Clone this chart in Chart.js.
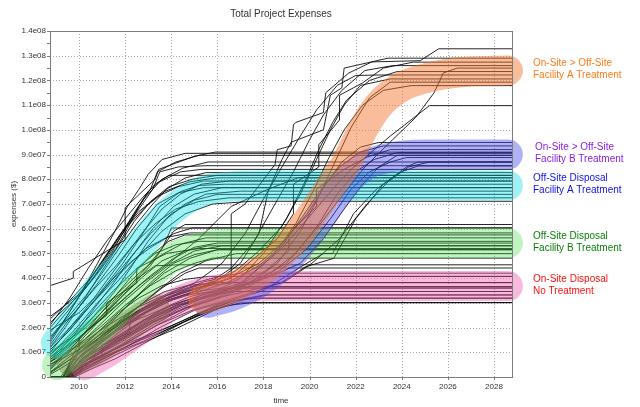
<!DOCTYPE html>
<html>
<head>
<meta charset="utf-8">
<title>Total Project Expenses</title>
<script src="https://cdn.jsdelivr.net/npm/chart.js@4.4.1/dist/chart.umd.min.js"></script>
<style>
  html, body { margin: 0; padding: 0; background: #fff; }
  #chart { display: block; }
</style>
</head>
<body>
<canvas id="chart" width="640" height="407"></canvas>
<script>
const chartTitle = "Total Project Expenses";
const xTitle = "time";
const yTitle = "expenses ($)";

const xTickValues = [2010, 2012, 2014, 2016, 2018, 2020, 2022, 2024, 2026, 2028];
const xTickLabels = ["2010", "2012", "2014", "2016", "2018", "2020", "2022", "2024", "2026", "2028"];
const yTickValues = [0, 1e7, 2e7, 3e7, 4e7, 5e7, 6e7, 7e7, 8e7, 9e7, 1e8, 1.1e8, 1.2e8, 1.3e8, 1.4e8];
const yTickLabels = ["0", "1.0e07", "2.0e07", "3.0e07", "4.0e07", "5.0e07", "6.0e07", "7.0e07",
  "8.0e07", "9.0e07", "1.0e08", "1.1e08", "1.2e08", "1.3e08", "1.4e08"];
const yMinorTicks = [5e6, 1.5e7, 2.5e7, 3.5e7, 4.5e7, 5.5e7, 6.5e7, 7.5e7, 8.5e7, 9.5e7, 1.05e8, 1.15e8, 1.25e8, 1.35e8];

// simulation runs, [year, expenses in 1e7 $]
const runsOffsiteA = [
  [[2008.75,2.45],[2009.4,2.9],[2010.2,3.5],[2010.9,4.3],[2011.6,5.2],[2012.1,6.0],[2012.6,6.9],[2013.1,7.6],[2013.4,8.3],[2014.2,8.7],[2015.2,8.97],[2028.8,8.97]],
  [[2008.75,3.7],[2009.75,4.0],[2009.75,4.27],[2012.0,5.55],[2012.0,6.85],[2013.3,8.0],[2013.45,8.4],[2015.0,8.93],[2015.9,9.1],[2028.8,9.1]],
  [[2008.75,2.35],[2009.6,3.1],[2010.5,4.0],[2011.2,4.9],[2011.9,5.9],[2012.5,6.8],[2013,7.5],[2013.6,8.0],[2014.5,8.45],[2015.6,8.7],[2028.8,8.7]],
  [[2008.75,1.63],[2009.5,2.4],[2010.3,3.3],[2011,4.2],[2011.8,5.3],[2012.5,6.2],[2013.2,7.0],[2013.8,7.6],[2014.6,8.05],[2015.5,8.27],[2028.8,8.27]],
  [[2008.75,1.0],[2009.6,2.0],[2010.5,3.0],[2011.2,3.9],[2012,4.9],[2012.8,5.9],[2013.6,6.8],[2014.4,7.4],[2015.3,7.8],[2016.5,7.93],[2028.8,7.93]],
  [[2008.75,0.6],[2009.5,1.3],[2010.5,2.3],[2011.5,3.4],[2012.3,4.5],[2013,5.5],[2013.8,6.4],[2014.6,7.0],[2015.5,7.4],[2017,7.52],[2028.8,7.52]],
  [[2008.75,1.8],[2009.8,3.0],[2010.6,4.0],[2011.4,5.1],[2012.1,6.1],[2012.9,6.9],[2013.7,7.5],[2014.8,7.9],[2016,8.06],[2028.8,8.06]],
  [[2008.75,1.3],[2009.7,2.5],[2010.7,3.6],[2011.6,4.5],[2012.4,5.4],[2013.3,6.2],[2014.2,6.8],[2015.2,7.1],[2016.5,7.25],[2028.8,7.25]],
  [[2008.75,2.0],[2009.5,2.8],[2010.2,3.6],[2011,4.7],[2011.8,5.8],[2012.6,6.8],[2013.2,7.6],[2013.5,8.3],[2014.3,8.5],[2015.5,8.55],[2028.8,8.55]],
  [[2008.75,0.9],[2009.8,1.9],[2010.8,3.0],[2011.8,4.0],[2012.7,5.0],[2013.6,5.9],[2014.6,6.6],[2015.8,7.0],[2017.5,7.11],[2028.8,7.11]],
  [[2008.75,1.6],[2009.9,2.7],[2010.9,3.9],[2011.7,4.9],[2012.5,6.0],[2013.4,7.0],[2014.3,7.45],[2015.4,7.66],[2028.8,7.66]],
  [[2008.75,1.1],[2009.5,1.8],[2010.4,2.8],[2011.3,3.8],[2012.2,4.8],[2013.1,5.8],[2014,6.6],[2015,7.15],[2016,7.39],[2028.8,7.39]],
  [[2008.75,2.1],[2009.6,3.2],[2010.4,4.4],[2011.2,5.5],[2012,6.4],[2012.7,7.2],[2013.3,7.8],[2013.9,8.16],[2028.8,8.16]],
  [[2008.75,1.9],[2010,2.6],[2010.9,3.4],[2011.9,4.6],[2012.9,6.0],[2013.5,6.9],[2014.4,7.5],[2015.2,7.75],[2016.3,7.8],[2028.8,7.8]],
  [[2008.75,0.8],[2010,1.6],[2011.3,2.6],[2012.6,3.7],[2013.9,4.6],[2015.2,5.6],[2016.6,6.9],[2018.2,7.6],[2019.5,8.06],[2028.8,8.06]],
  [[2008.75,1.4],[2009.3,2.2],[2010.1,3.4],[2010.8,4.6],[2011.5,5.8],[2012.1,6.9],[2012.6,7.6],[2013,8.2],[2013.6,8.8],[2014.6,9.05],[2028.8,9.05]],
  [[2008.75,1.2],[2009.4,2.0],[2010.2,3.1],[2011,4.3],[2011.7,5.3],[2012.4,6.3],[2013.1,7.1],[2013.9,7.7],[2014.9,8.0],[2016,8.16],[2028.8,8.16]],
  [[2008.75,0.7],[2009.7,1.6],[2010.6,2.7],[2011.5,3.8],[2012.3,4.9],[2013.2,6.0],[2014.1,6.9],[2015,7.4],[2016.2,7.66],[2028.8,7.66]],
  [[2008.75,1.5],[2009.5,2.5],[2010.3,3.7],[2011.1,4.8],[2011.9,5.9],[2012.6,6.7],[2013.4,7.3],[2014.3,7.7],[2015.4,7.93],[2028.8,7.93]],
  [[2008.75,2.2],[2009.3,2.7],[2010,3.3],[2010.7,4.1],[2011.4,5.0],[2012.2,6.3],[2012.8,7.2],[2013.5,7.9],[2014.4,8.3],[2015.3,8.4],[2028.8,8.4]]
];

const runsOffsiteB = [
  [[2008.75,0.3],[2009.6,1.0],[2010.5,1.9],[2011.4,2.8],[2012.3,3.7],[2013.1,4.5],[2013.6,5.2],[2013.9,5.8],[2014.0,6.03],[2028.8,6.03]],
  [[2008.75,0.8],[2009.8,1.7],[2010.8,2.6],[2011.7,3.4],[2012.6,4.2],[2013.5,4.9],[2014.5,5.4],[2015.5,5.63],[2028.8,5.63]],
  [[2008.75,0.2],[2009.7,0.9],[2010.8,1.8],[2011.8,2.6],[2012.8,3.5],[2013.7,4.2],[2014.8,4.8],[2016,5.15],[2028.8,5.15]],
  [[2008.75,1.2],[2009.5,1.9],[2010.4,2.8],[2011.2,3.6],[2012,4.4],[2012.9,5.2],[2013.8,5.65],[2014.8,5.83],[2028.8,5.83]],
  [[2008.75,0.5],[2010,1.3],[2011,2.2],[2012,3.1],[2013,3.9],[2014,4.6],[2015,5.1],[2016.2,5.31],[2028.8,5.31]],
  [[2008.75,0.1],[2010.2,0.9],[2011.3,1.8],[2012.4,2.7],[2013.4,3.5],[2014.4,4.2],[2015.5,4.7],[2016.8,4.99],[2028.8,4.99]],
  [[2008.75,0.9],[2009.6,1.6],[2010.6,2.6],[2011.5,3.5],[2012.4,4.3],[2013.3,5.0],[2014.2,5.35],[2015.2,5.49],[2028.8,5.49]],
  [[2008.75,0.4],[2009.9,1.4],[2011,2.5],[2012,3.5],[2012.9,4.4],[2013.6,5.2],[2014.1,5.9],[2014.6,6.17],[2028.8,6.17]],
  [[2008.75,0.6],[2009.8,1.2],[2010.9,2.0],[2012,2.9],[2013.1,3.7],[2014.2,4.3],[2015,4.6],[2015.8,4.81],[2028.8,4.81]],
  [[2008.75,0.2],[2010.1,1.0],[2011.3,1.9],[2012.5,2.8],[2013.6,3.6],[2014.6,4.2],[2015.2,4.41],[2028.8,4.41]],
  [[2008.75,0.7],[2009.9,1.5],[2011,2.4],[2012.1,3.3],[2013.1,4.1],[2014.1,4.8],[2015,5.25],[2016,5.42],[2028.8,5.42]],
  [[2008.75,1.0],[2010.3,2.0],[2011.4,3.0],[2012.4,3.9],[2013.3,4.5],[2014.3,4.54],[2028.8,4.54]],
  [[2008.75,0.35],[2009.7,1.2],[2010.6,2.2],[2011.5,3.2],[2012.3,4.1],[2013.1,4.9],[2013.9,5.5],[2014.6,5.75],[2028.8,5.75]],
  [[2008.75,0.5],[2010,1.1],[2010,1.6],[2011.2,2.5],[2011.2,3.0],[2012.5,3.8],[2012.5,4.4],[2013.8,5.0],[2015.2,5.2],[2028.8,5.2]],
  [[2008.75,0.6],[2009.8,1.4],[2010.8,2.3],[2011.8,3.2],[2012.7,4.0],[2013.6,4.7],[2014.6,5.1],[2015.6,5.31],[2028.8,5.31]],
  [[2008.75,0.15],[2009.9,0.9],[2011.1,1.9],[2012.2,3.0],[2013.2,3.9],[2014.1,4.6],[2015,4.95],[2016,5.15],[2028.8,5.15]],
  [[2008.75,1.1],[2009.6,1.9],[2010.5,2.9],[2011.4,3.9],[2012.3,4.7],[2013.2,5.3],[2014.1,5.8],[2014.9,6.03],[2028.8,6.03]]
];

const runsOnsite = [
  [[2008.75,0],[2009.4,0],[2010,0.35],[2011,0.8],[2012,1.2],[2012.7,1.5],[2013.5,1.8],[2014.5,2.2],[2015.5,2.6],[2016.5,2.9],[2017.5,3.01],[2028.8,3.01]],
  [[2008.75,0],[2009.5,0],[2010.2,0.45],[2011.2,0.95],[2012.2,1.4],[2012.9,1.65],[2013.8,2.0],[2014.8,2.4],[2015.8,2.8],[2016.8,3.1],[2017.8,3.19],[2028.8,3.19]],
  [[2008.75,0],[2009.3,0],[2010,0.6],[2010.8,1.3],[2011.7,2.0],[2012.6,2.6],[2013.5,3.0],[2014.5,3.3],[2015.5,3.42],[2016.5,3.46],[2028.8,3.46]],
  [[2008.75,0],[2009.6,0],[2010.4,0.6],[2011.4,1.3],[2012.4,1.9],[2013.4,2.5],[2014.4,3.0],[2015.6,3.4],[2016.8,3.66],[2028.8,3.66]],
  [[2008.75,0],[2009.4,0],[2010.1,0.9],[2011,1.7],[2011.9,2.4],[2012.8,3.0],[2013.7,3.45],[2014.7,3.7],[2015.8,3.82],[2028.8,3.82]],
  [[2008.75,0],[2009.7,0],[2010.5,0.4],[2011.5,0.85],[2012.5,1.3],[2013.3,1.6],[2014.2,1.95],[2015.2,2.4],[2016.2,2.85],[2017.2,3.15],[2018.2,3.32],[2028.8,3.32]],
  [[2008.75,0],[2009.3,0],[2009.9,1.0],[2010.8,1.8],[2011.7,2.6],[2012.6,3.2],[2013.6,3.7],[2014.6,3.95],[2015.6,4.07],[2028.8,4.07]],
  [[2008.75,0],[2009.5,0],[2010.3,0.8],[2011.2,1.6],[2012.1,2.3],[2013,2.9],[2014,3.4],[2015,3.8],[2016,4.05],[2017,4.2],[2028.8,4.2]],
  [[2008.75,0],[2009.8,0],[2010.6,0.35],[2011.6,0.75],[2012.6,1.25],[2013.6,1.75],[2014.6,2.25],[2015.6,2.7],[2016.6,3.05],[2018,3.32],[2028.8,3.32]],
  [[2008.75,0],[2009.4,0],[2010.2,0.65],[2011.3,1.25],[2012.3,1.75],[2013.3,2.25],[2014.3,2.75],[2015.3,3.15],[2016.4,3.45],[2017.5,3.66],[2028.8,3.66]],
  [[2008.75,0],[2009.6,0],[2010.5,0.5],[2011.3,0.9],[2012,1.15],[2012.8,1.45],[2013.8,1.9],[2014.8,2.35],[2015.9,2.75],[2017,3.0],[2028.8,3.01]],
  [[2008.75,0],[2009.5,0],[2010.1,0.7],[2011,1.4],[2012,2.1],[2013,2.7],[2014,3.15],[2015,3.45],[2016.2,3.6],[2028.8,3.6]],
  [[2008.75,0],[2009.3,0],[2010,0.8],[2010.9,1.5],[2011.8,2.2],[2012.8,2.8],[2013.8,3.3],[2014.8,3.65],[2015.8,3.82],[2028.8,3.82]],
  [[2008.75,0],[2009.5,0],[2010.2,0.5],[2011,0.9],[2011,1.3],[2012.2,1.8],[2012.2,2.2],[2013.5,2.7],[2014.6,3.1],[2015.8,3.3],[2016.8,3.46],[2028.8,3.46]],
  [[2008.75,0],[2009.4,0],[2010.1,0.55],[2011,1.1],[2011.9,1.7],[2012.8,2.3],[2013.8,2.85],[2014.8,3.25],[2015.9,3.5],[2017,3.6],[2028.8,3.6]],
  [[2008.75,0],[2009.6,0],[2010.3,0.4],[2011.3,0.85],[2012.3,1.35],[2013.2,1.75],[2014.1,2.1],[2015.1,2.55],[2016.1,2.95],[2017.3,3.19],[2028.8,3.19]],
  [[2008.75,0],[2009.3,0],[2009.9,0.7],[2010.8,1.35],[2011.8,2.05],[2012.7,2.65],[2013.7,3.15],[2014.8,3.55],[2016,3.82],[2028.8,3.82]],
  [[2008.75,0],[2009.5,0],[2010.3,0.75],[2011.3,1.5],[2012.3,2.2],[2013.3,2.85],[2014.3,3.4],[2015.4,3.85],[2016.5,4.07],[2028.8,4.07]]
];

const runsOnOffA = [
  [[2008.75,0],[2009.2,0],[2009.9,0.9],[2011,1.6],[2012.2,2.4],[2013.3,3.0],[2014.5,3.4],[2015.6,3.7],[2016.6,3.8],[2016.6,6.6],[2017.2,7.0],[2018.5,8.6],[2018.6,9.2],[2019.2,9.35],[2019.3,10.2],[2019.4,10.3],[2020.6,10.7],[2020.7,11.5],[2021.7,12.3],[2022.7,12.75],[2024.8,12.8],[2025.6,13.28],[2028.8,13.28]],
  [[2008.75,0],[2009.3,0],[2010,1.0],[2011.2,1.8],[2012.4,2.6],[2013.5,3.2],[2014.8,3.6],[2016,3.9],[2017,4.6],[2017.8,5.8],[2018.2,7.5],[2018.8,8.8],[2019.2,9.5],[2020.6,10.0],[2020.9,11.4],[2021.4,11.7],[2021.5,12.5],[2023.4,12.9],[2028.8,12.9]],
  [[2008.75,0],[2009.5,0],[2010.2,0.8],[2011.4,1.5],[2012.8,2.3],[2014,2.9],[2015.3,3.3],[2017,3.8],[2018.8,5.2],[2020,6.5],[2021,7.6],[2021.8,8.4],[2023.5,9.75],[2025.2,10.98],[2028.8,10.98]],
  [[2008.75,0],[2009.4,0],[2010.1,0.7],[2011.5,1.4],[2013,2.2],[2014.5,2.9],[2016,3.4],[2017.5,3.8],[2019,4.6],[2020.3,6.0],[2021.3,7.2],[2022.4,8.5],[2023.6,9.6],[2024.6,10.5],[2025.4,11.5],[2025.8,12.3],[2026.4,12.5],[2028.8,12.5]],
  [[2008.75,0],[2009.3,0],[2010,1.1],[2011.2,1.9],[2012.6,2.7],[2014,3.3],[2015.5,3.7],[2016.8,4.3],[2017.8,5.1],[2018.8,6.1],[2019.6,7.4],[2020.3,8.8],[2020.9,10.0],[2021.5,11.0],[2022.2,11.8],[2023.5,12.06],[2028.8,12.06]],
  [[2008.75,0],[2009.6,0],[2010.3,0.7],[2011.6,1.4],[2013,2.2],[2014.4,2.9],[2015.8,3.4],[2017,4.0],[2018,5.0],[2019,6.4],[2019.8,7.9],[2020.4,9.2],[2021,10.3],[2021.6,11.2],[2022.6,12.0],[2023.8,12.36],[2028.8,12.36]],
  [[2008.75,0],[2009.4,0],[2010.1,0.9],[2011.3,1.7],[2012.6,2.5],[2013.8,3.1],[2015.1,3.5],[2016.6,4.4],[2017.6,5.5],[2018.5,7.0],[2019.3,8.3],[2020,9.6],[2020.6,10.6],[2021.4,11.6],[2022.4,12.4],[2023.6,12.6],[2028.8,12.6]],
  [[2008.75,0],[2009.7,0],[2010.4,0.6],[2011.8,1.3],[2013.2,2.1],[2014.6,2.8],[2016,3.3],[2017.2,3.9],[2018.4,4.9],[2019.4,6.2],[2020.2,7.6],[2020.8,8.8],[2021.5,10.0],[2022.3,11.0],[2023.2,11.6],[2024.4,11.79],[2028.8,11.79]],
  [[2008.75,0],[2009.3,0],[2009.9,1.2],[2011.1,2.0],[2012.5,2.8],[2013.9,3.4],[2015,3.8],[2016.2,4.6],[2017.2,5.8],[2018,7.2],[2018.8,8.5],[2019.5,9.6],[2020.3,10.8],[2021.2,11.8],[2022,12.2],[2023,12.22],[2028.8,12.22]],
  [[2008.75,0],[2009.8,0],[2010.5,0.6],[2011.9,1.3],[2013.4,2.1],[2014.8,2.8],[2016.2,3.3],[2017.4,3.8],[2018.6,4.6],[2019.6,5.9],[2020.4,7.3],[2021.1,8.7],[2021.8,10.1],[2022.6,11.3],[2023.5,11.93],[2028.8,11.93]],
  [[2008.75,0],[2009.5,0],[2010.2,0.9],[2011.4,1.7],[2012.7,2.5],[2014,3.1],[2015.4,3.6],[2016.6,4.0],[2017.6,4.8],[2018.6,5.6],[2019.3,6.6],[2019.3,7.8],[2020.4,8.5],[2020.4,9.4],[2021.3,10.4],[2021.3,11.4],[2022.3,11.9],[2023.2,12.5],[2024.5,12.74],[2028.8,12.74]]
];

const runsOnOffB = [
  [[2008.75,0],[2009.5,0],[2010.2,0.8],[2011.4,1.5],[2012.8,2.3],[2014.2,2.9],[2015.6,3.3],[2017,3.7],[2018.4,4.1],[2019.6,4.6],[2020.6,5.6],[2021.5,6.8],[2022.3,7.8],[2023,8.5],[2023.8,8.97],[2028.8,8.97]],
  [[2008.75,0],[2009.6,0],[2010.4,0.7],[2011.7,1.4],[2013.1,2.2],[2014.6,2.8],[2016,3.2],[2017.4,3.5],[2018.75,3.8],[2019.8,4.45],[2021.05,4.8],[2022,6.4],[2023.2,7.8],[2024.2,8.5],[2024.7,8.7],[2028.8,8.7]],
  [[2008.75,0],[2009.4,0],[2010.1,0.9],[2011.3,1.7],[2012.6,2.5],[2014,3.1],[2015.4,3.5],[2016.6,3.9],[2017.8,4.5],[2018.8,5.3],[2019.7,6.5],[2020.5,7.6],[2021.3,8.5],[2022.2,9.1],[2023.2,9.35],[2028.8,9.35]],
  [[2008.75,0],[2009.5,0],[2010.3,0.8],[2011.6,1.5],[2013,2.3],[2014.4,2.9],[2015.8,3.3],[2017,3.7],[2018.3,4.2],[2019.4,5.0],[2020.4,6.2],[2021.2,7.4],[2022,8.3],[2022.8,8.8],[2023.8,9.08],[2028.8,9.08]],
  [[2008.75,0],[2009.7,0],[2010.5,0.6],[2011.9,1.3],[2013.4,2.1],[2014.9,2.7],[2016.4,3.1],[2017.8,3.5],[2019,3.9],[2020.1,4.6],[2021.3,5.6],[2022.4,6.9],[2023.4,7.9],[2024.3,8.5],[2025.2,8.7],[2028.8,8.7]],
  [[2008.75,0],[2009.3,0],[2010,1.0],[2011.2,1.8],[2012.5,2.6],[2013.9,3.2],[2015.2,3.6],[2016.5,4.0],[2017.8,4.6],[2018.9,5.5],[2019.9,6.6],[2020.7,7.8],[2021.4,8.7],[2022.2,9.3],[2023,9.49],[2028.8,9.49]],
  [[2008.75,0],[2009.6,0],[2010.4,0.7],[2011.8,1.4],[2013.2,2.2],[2014.7,2.8],[2016.1,3.2],[2017.4,3.7],[2018.7,4.3],[2019.9,5.2],[2020.9,6.4],[2021.8,7.6],[2022.6,8.3],[2023.5,8.7],[2024.2,8.88],[2028.8,8.88]],
  [[2008.75,0],[2009.7,0],[2010.6,0.5],[2012,1.2],[2013.5,2.0],[2015,2.7],[2016.6,3.1],[2018,3.5],[2019.6,4.45],[2020.6,5.0],[2021,5.0],[2021.9,6.6],[2022.9,7.6],[2023.9,8.27],[2024.7,8.54],[2028.8,8.54]],
  [[2008.75,0],[2009.5,0],[2010.2,0.8],[2011.5,1.5],[2012.9,2.3],[2014.3,2.9],[2015.7,3.3],[2016.9,3.7],[2018.1,4.3],[2019.1,5.1],[2019.1,5.8],[2020.3,6.9],[2020.3,7.6],[2021.5,8.4],[2022.5,8.9],[2023.5,9.2],[2028.8,9.2]]
];

// hand drawn highlighter bands, [year, expenses in 1e7 $]
const bandOnsite = [[2010.26,0.48],[2011.3,1.05],[2012.44,1.78],[2013.9,2.85],[2015.3,3.4],[2016.8,3.62],[2018.5,3.68],[2028.6,3.68]];
const bandOnsiteEarly = [[2009.7,0.6],[2011,1.25],[2012.44,2.24],[2013.3,2.75]];
const bandOffsiteB = [[2009.05,0.48],[2010,1.2],[2011,2.03],[2012.44,3.52],[2013.9,4.75],[2015.3,5.25],[2016.8,5.4],[2028.6,5.42]];
const bandOffsiteA = [[2009.0,1.37],[2010,2.55],[2011,3.75],[2012.44,5.1],[2013.9,6.65],[2015.3,7.5],[2016.5,7.7],[2018,7.75],[2028.6,7.75]];
const bandOnOffB = [[2015.6,3.0],[2016.7,3.3],[2017.7,3.75],[2018.7,4.45],[2019.6,5.35],[2020.4,6.35],[2021.1,7.3],[2021.8,8.1],[2022.5,8.6],[2023.5,8.88],[2025,9.0],[2028.6,9.0]];
const bandOnOffA = [[2015.4,3.15],[2016.5,3.55],[2017.5,4.05],[2018.5,4.75],[2019.4,5.65],[2020.2,6.7],[2020.9,7.7],[2021.55,8.6],[2022.3,10.0],[2023,11.0],[2024,11.75],[2025.3,12.15],[2026.8,12.35],[2028.6,12.4]];

const nameOnOffA = ["On-Site > Off-Site", "Facility A Treatment"];
const nameOnOffB = ["On-Site > Off-Site", "Facility B Treatment"];
const nameOffsiteA = ["Off-Site Disposal", "Facility A Treatment"];
const nameOffsiteB = ["Off-Site Disposal", "Facility B Treatment"];
const nameOnsite = ["On-Site Disposal", "No Treatment"];

const Y_UNIT = 1e7;
const FONT = "'Liberation Sans', Arial, sans-serif";

function toPoints(list) {
  return list.map(p => ({ x: p[0], y: p[1] * Y_UNIT }));
}

// drawn last = on top, so lower order value
const bands = [
  { pts: bandOnOffA, color: "rgba(245,115,45,0.47)", order: 1, name: nameOnOffA, text: "#ff7a1a", dx: 0 },
  { pts: bandOnOffB, color: "rgba(70,70,235,0.42)", order: 2, name: nameOnOffB, text: "#8a1ee6", dx: 2 },
  { pts: bandOffsiteA, color: "rgba(0,220,230,0.38)", order: 3, name: nameOffsiteA, text: "#1010e8", dx: 0 },
  { pts: bandOffsiteB, color: "rgba(60,220,60,0.33)", order: 4, name: nameOffsiteB, text: "#0a800a", dx: 0 },
  { pts: bandOnsiteEarly, color: "rgba(150,95,85,0.45)", order: 5, name: null },
  { pts: bandOnsite, color: "rgba(240,100,180,0.45)", order: 6, name: nameOnsite, text: "#ff1010", dx: 0 }
];

const datasets = [];
[runsOffsiteA, runsOffsiteB, runsOnsite, runsOnOffA, runsOnOffB].forEach(group => {
  group.forEach(run => {
    datasets.push({
      data: toPoints(run),
      borderColor: "rgba(0,0,0,0.85)",
      borderWidth: 1,
      pointRadius: 0,
      tension: 0,
      fill: false,
      order: 10
    });
  });
});
bands.forEach(b => {
  datasets.push({
    data: toPoints(b.pts),
    borderColor: b.color,
    borderWidth: 30,
    borderCapStyle: "round",
    borderJoinStyle: "round",
    cubicInterpolationMode: "monotone",
    pointRadius: 0,
    fill: false,
    clip: false,
    order: b.order
  });
});

// dotted grid under the data
const gridPlugin = {
  id: "dottedGrid",
  beforeDatasetsDraw(chart) {
    const { ctx, chartArea: a, scales } = chart;
    ctx.save();
    ctx.strokeStyle = "#a9a9a9";
    ctx.lineWidth = 1;
    ctx.setLineDash([1, 2]);
    ctx.beginPath();
    xTickValues.forEach(v => {
      const x = Math.round(scales.x.getPixelForValue(v)) + 0.5;
      ctx.moveTo(x, a.top);
      ctx.lineTo(x, a.bottom);
    });
    yTickValues.forEach(v => {
      const y = Math.round(scales.y.getPixelForValue(v)) + 0.5;
      ctx.moveTo(a.left, y);
      ctx.lineTo(a.right, y);
    });
    ctx.stroke();
    ctx.restore();
  }
};

const framePlugin = {
  id: "frame",
  afterDraw(chart) {
    const { ctx, chartArea: a, scales } = chart;
    const xs = scales.x, ys = scales.y;
    ctx.save();
    ctx.strokeStyle = "#7c7c7c";
    ctx.lineWidth = 1;
    ctx.strokeRect(Math.round(a.left) + 0.5, Math.round(a.top) + 0.5,
      Math.round(a.right - a.left), Math.round(a.bottom - a.top));
    ctx.beginPath();
    yTickValues.concat(yMinorTicks).forEach(v => {
      const y = Math.round(ys.getPixelForValue(v)) + 0.5;
      ctx.moveTo(a.left - 3, y);
      ctx.lineTo(a.left, y);
    });
    xTickValues.forEach(v => {
      const x = Math.round(xs.getPixelForValue(v)) + 0.5;
      ctx.moveTo(x, a.bottom);
      ctx.lineTo(x, a.bottom + 3);
    });
    ctx.stroke();

    ctx.fillStyle = "#333";
    ctx.textAlign = "center";
    ctx.textBaseline = "middle";
    ctx.font = "10px " + FONT;
    ctx.fillText(chartTitle, (a.left + a.right) / 2, 14);
    ctx.font = "8px " + FONT;
    ctx.fillText(xTitle, (a.left + a.right) / 2, 401);
    ctx.save();
    ctx.translate(14, (a.top + a.bottom) / 2);
    ctx.rotate(-Math.PI / 2);
    ctx.fillText(yTitle, 0, 0);
    ctx.restore();

    ctx.textAlign = "left";
    ctx.font = "10px " + FONT;
    bands.forEach(b => {
      if (!b.name) return;
      const yc = ys.getPixelForValue(b.pts[b.pts.length - 1][1] * Y_UNIT) - 1;
      ctx.fillStyle = b.text;
      ctx.fillText(b.name[0], a.right + 21 + b.dx, yc - 6);
      ctx.fillText(b.name[1], a.right + 21 + b.dx, yc + 6);
    });
    ctx.restore();
  }
};

new Chart(document.getElementById("chart"), {
  type: "line",
  data: { datasets: datasets },
  options: {
    responsive: false,
    animation: false,
    events: [],
    layout: { padding: { top: 31, right: 128, bottom: 0, left: 0 } },
    plugins: { legend: { display: false }, tooltip: { enabled: false }, title: { display: false } },
    scales: {
      x: {
        type: "linear",
        min: 2008.74,
        max: 2028.78,
        afterBuildTicks: s => { s.ticks = xTickValues.map(v => ({ value: v })); },
        afterFit: s => { s.height = 30; },
        ticks: {
          autoSkip: false,
          maxRotation: 0,
          padding: 5,
          color: "#333",
          font: { family: FONT, size: 8 },
          callback: v => xTickLabels[xTickValues.indexOf(v)]
        },
        grid: { display: false, drawTicks: false },
        border: { display: false }
      },
      y: {
        type: "linear",
        min: 0,
        max: 1.4e8,
        afterBuildTicks: s => { s.ticks = yTickValues.map(v => ({ value: v })); },
        afterFit: s => { s.width = 50; },
        ticks: {
          autoSkip: false,
          padding: 4,
          color: "#333",
          font: { family: FONT, size: 8 },
          callback: v => yTickLabels[yTickValues.indexOf(v)]
        },
        grid: { display: false, drawTicks: false },
        border: { display: false }
      }
    }
  },
  plugins: [gridPlugin, framePlugin]
});
</script>
</body>
</html>
